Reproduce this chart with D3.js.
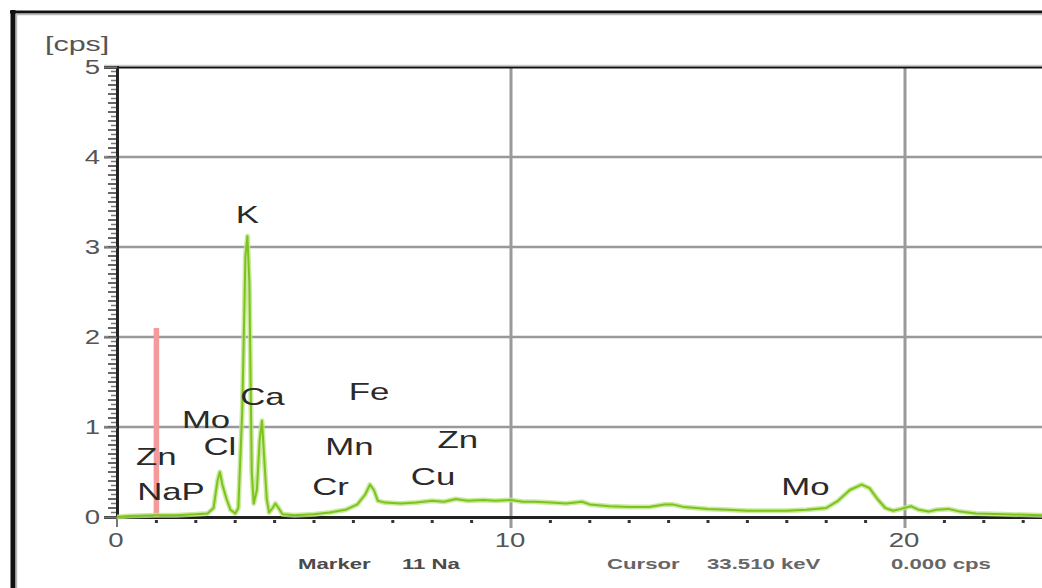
<!DOCTYPE html>
<html>
<head>
<meta charset="utf-8">
<script src="https://cdn.jsdelivr.net/npm/d3@7"></script>
<style>
  html, body { margin: 0; padding: 0; background: #fff; }
  svg { display: block; font-family: "Liberation Sans", Arial, sans-serif; }
</style>
</head>
<body>
<svg id="chart" width="1042" height="588"></svg>
<script>
// spectrum (keV, cps)
const energy = [0.0, 0.3, 1.0, 1.5, 2.0, 2.3, 2.45, 2.55, 2.61, 2.68, 2.78, 2.88, 3.0, 3.08, 3.18, 3.26, 3.31, 3.36, 3.42, 3.47,
  3.55, 3.62, 3.68, 3.73, 3.8, 3.86, 3.95, 4.02, 4.1, 4.2, 4.5, 5.0, 5.4, 5.8, 6.1, 6.3, 6.42, 6.52, 6.62, 6.8,
  7.2, 7.6, 8.0, 8.3, 8.6, 8.9, 9.3, 9.6, 10.0, 10.3, 10.6, 11.0, 11.4, 11.8, 12.0, 12.5, 13.0, 13.5, 13.9, 14.1,
  14.4, 15.0, 15.5, 16.0, 16.5, 17.0, 17.5, 18.0, 18.3, 18.6, 18.9, 19.1, 19.3, 19.5, 19.7, 19.9, 20.15, 20.35, 20.6, 20.8,
  21.1, 21.4, 21.8, 22.5, 23.5]
const cps = [0.0, 0.01, 0.02, 0.02, 0.03, 0.04, 0.1, 0.4, 0.5, 0.35, 0.2, 0.08, 0.04, 0.1, 1.2, 2.9, 3.12, 2.6, 0.5, 0.15,
  0.3, 0.85, 1.07, 0.7, 0.2, 0.05, 0.1, 0.15, 0.1, 0.03, 0.02, 0.03, 0.05, 0.08, 0.14, 0.25, 0.36, 0.3, 0.18, 0.16,
  0.15, 0.16, 0.18, 0.17, 0.2, 0.18, 0.19, 0.18, 0.19, 0.17, 0.17, 0.16, 0.15, 0.17, 0.14, 0.12, 0.11, 0.11, 0.14, 0.14,
  0.11, 0.09, 0.08, 0.07, 0.07, 0.07, 0.08, 0.1, 0.18, 0.3, 0.36, 0.32, 0.2, 0.1, 0.07, 0.09, 0.12, 0.08, 0.06, 0.08,
  0.09, 0.06, 0.04, 0.03, 0.02]

// element labels: name, keV (centre), cps (baseline)
const labelNames = ["K", "Ca", "Mo", "Cl", "Zn", "NaP", "Fe", "Mn", "Cr", "Zn", "Cu", "Mo"]
const labelKeV = [3.31, 3.69, 2.26, 2.61, 1.0, 1.37, 6.4, 5.9, 5.42, 8.65, 8.02, 17.47]
const labelCps = [3.27, 1.24, 0.99, 0.69, 0.58, 0.19, 1.3, 0.69, 0.24, 0.77, 0.36, 0.24]

// Na marker
const markerKeV = 1.0
const markerCps = 2.1

const xMajor = [0, 10, 20]
const yMajor = [0, 1, 2, 3, 4, 5]

// status line under the plot
const statusText = ["Marker", "11 Na", "Cursor", "33.510 keV", "0.000 cps"]
const statusX = [298, 402, 607, 707, 891]

const svg = d3.select("#chart")
const W = 1042, H = 588
const SX = 1.45 // the picture is stretched sideways, text too

const x = d3.scaleLinear().domain([0, 23.5]).range([117, 117 + 23.5 * 39.4])
const y = d3.scaleLinear().domain([0, 5]).range([517, 67])

// outer frame
svg.append("rect").attr("x", 0).attr("y", 0).attr("width", W).attr("height", H).attr("fill", "#fff")
svg.append("line").attr("x1", 13).attr("x2", 13).attr("y1", 10).attr("y2", H).attr("stroke", "#111").attr("stroke-width", 5)
svg.append("line").attr("x1", 16.5).attr("x2", 16.5).attr("y1", 14).attr("y2", H).attr("stroke", "#bbb").attr("stroke-width", 1.5)
svg.append("line").attr("x1", 10).attr("x2", W).attr("y1", 12).attr("y2", 12).attr("stroke", "#111").attr("stroke-width", 3)
svg.append("line").attr("x1", 16).attr("x2", W).attr("y1", 14.5).attr("y2", 14.5).attr("stroke", "#bbb").attr("stroke-width", 1.5)

// grid
const grid = svg.append("g")
grid.selectAll("line.h")
  .data(yMajor.filter((d) => d > 0 && d < 5))
  .join("line")
  .attr("x1", 104).attr("x2", W)
  .attr("y1", (d) => y(d)).attr("y2", (d) => y(d))
  .attr("stroke", "#999").attr("stroke-width", 2.5)
grid.selectAll("line.v")
  .data(xMajor.filter((d) => d > 0))
  .join("line")
  .attr("x1", (d) => x(d)).attr("x2", (d) => x(d))
  .attr("y1", y(5)).attr("y2", 528)
  .attr("stroke", "#9a9a9a").attr("stroke-width", 3)

// plot top border
svg.append("line").attr("x1", 104).attr("x2", W).attr("y1", y(5) - 1.5).attr("y2", y(5) - 1.5).attr("stroke", "#ccc").attr("stroke-width", 1.5)
svg.append("line").attr("x1", 116).attr("x2", W).attr("y1", y(5) + 0.5).attr("y2", y(5) + 0.5).attr("stroke", "#111").attr("stroke-width", 2)

// y axis with dense minor ticks
const yMinor = d3.range(0, 5.001, 0.05).map((d) => +d.toFixed(2))
const isTenth = (d) => Math.abs(Math.round(d * 10) - d * 10) < 1e-6
const yAxisG = svg.append("g").attr("transform", "translate(117,0)")
yAxisG.selectAll("line.minor")
  .data(yMinor)
  .join("line")
  .attr("x1", (d) => (isTenth(d) ? -9 : -6)).attr("x2", 0)
  .attr("y1", (d) => y(d)).attr("y2", (d) => y(d))
  .attr("stroke", (d) => (isTenth(d) ? "#333" : "#777"))
  .attr("stroke-width", 1.5)
yAxisG.call(d3.axisLeft(y).tickValues(yMajor).tickSize(13).tickFormat(""))
  .call((g) => g.select(".domain").attr("stroke", "#222").attr("stroke-width", 3))
  .call((g) => g.selectAll(".tick line").attr("stroke", "#777").attr("stroke-width", 2))
yAxisG.selectAll("text.lab")
  .data(yMajor)
  .join("text")
  .attr("transform", (d) => `translate(-17,${y(d)}) scale(${SX * 0.95},1)`)
  .attr("dy", "0.36em")
  .attr("text-anchor", "end").attr("font-size", 20).attr("fill", "#555")
  .text((d) => d)

svg.append("text")
  .attr("transform", `translate(45,51) scale(${SX * 1.05},1)`)
  .attr("font-size", 20).attr("fill", "#555").text("[cps]")

// x axis
const xAxisG = svg.append("g").attr("transform", `translate(0,${y(0)})`)
xAxisG.call(d3.axisBottom(x).tickValues(d3.range(0, 24, 1)).tickSize(0).tickFormat(""))
  .call((g) => g.select(".domain").attr("stroke", "#222").attr("stroke-width", 3))
xAxisG.selectAll("rect.dot")
  .data(d3.range(1, 24, 1).filter((d) => d % 10 !== 0))
  .join("rect")
  .attr("x", (d) => x(d) - 1.5).attr("y", 3).attr("width", 3).attr("height", 3).attr("fill", "#333")
xAxisG.selectAll("text.lab")
  .data(xMajor)
  .join("text")
  .attr("transform", (d) => `translate(${x(d) - 1},30) scale(${SX * 0.95},1)`)
  .attr("text-anchor", "middle").attr("font-size", 20).attr("fill", "#555")
  .text((d) => d)
xAxisG.append("line").attr("x1", x(0)).attr("x2", x(0)).attr("y1", 0).attr("y2", 10).attr("stroke", "#777").attr("stroke-width", 2)

// Na marker
svg.append("line")
  .attr("x1", x(markerKeV)).attr("x2", x(markerKeV))
  .attr("y1", y(0)).attr("y2", y(markerCps))
  .attr("stroke", "#f59a9a").attr("stroke-width", 5.5)

// spectrum
const pts = energy.map((e, i) => [e, cps[i]])
const line = d3.line().x((d) => x(d[0])).y((d) => y(d[1]))
svg.append("path").datum(pts).attr("d", line)
  .attr("fill", "none").attr("stroke", "#bfe38a").attr("stroke-width", 5).attr("stroke-linejoin", "round").attr("opacity", 0.8)
svg.append("path").datum(pts).attr("d", line)
  .attr("fill", "none").attr("stroke", "#7cc41c").attr("stroke-width", 2).attr("stroke-linejoin", "round")

// element labels
svg.append("g").selectAll("text")
  .data(labelNames)
  .join("text")
  .attr("transform", (d, i) => `translate(${x(labelKeV[i])},${y(labelCps[i])}) scale(${SX},1)`)
  .attr("text-anchor", "middle")
  .attr("font-size", 24)
  .attr("fill", "#2a2a2a")
  .text((d) => d)

// status line
svg.append("g").selectAll("text")
  .data(statusText)
  .join("text")
  .attr("transform", (d, i) => `translate(${statusX[i]},569) scale(${SX * 1.02},1)`)
  .attr("font-size", 15).attr("font-weight", "bold").attr("fill", (d, i) => (i < 2 ? "#4a4a4a" : "#666"))
  .text((d) => d)
</script>
</body>
</html>
